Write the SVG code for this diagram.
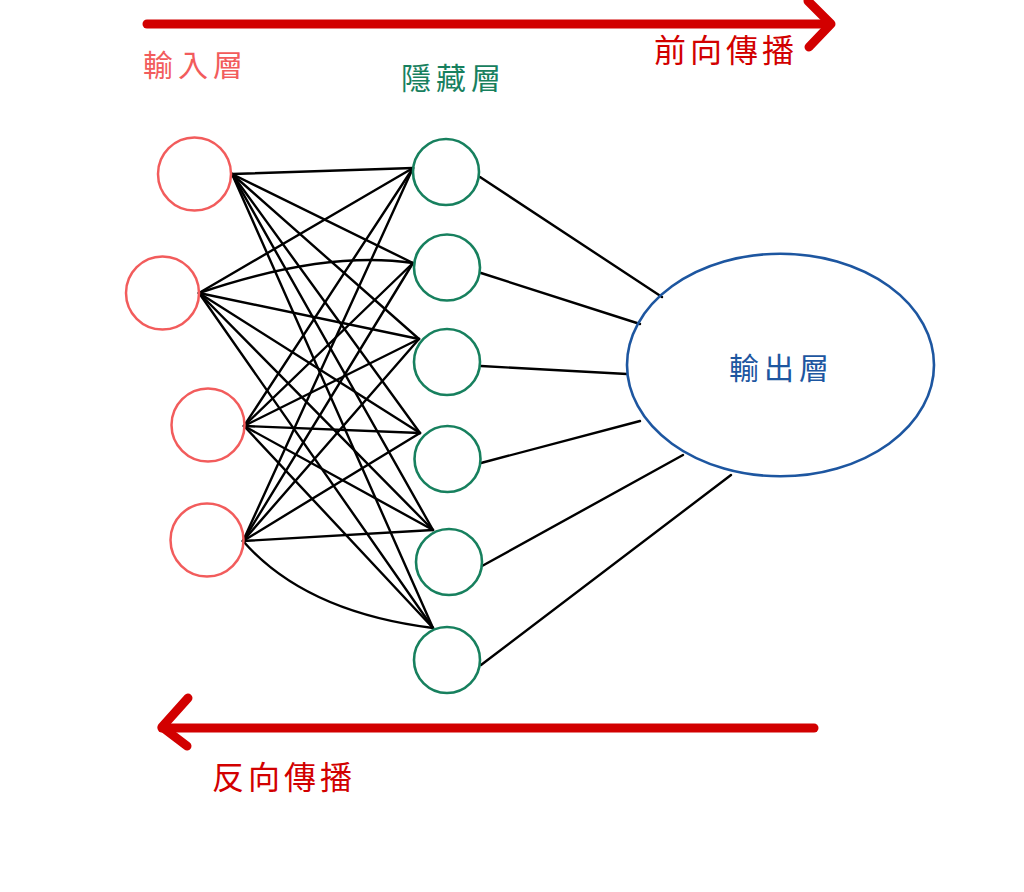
<svg xmlns="http://www.w3.org/2000/svg" width="1024" height="892" viewBox="0 0 1024 892">
<style>
.in{fill:none;stroke:#f25c5c;stroke-width:2.5}
.hid{fill:none;stroke:#17805e;stroke-width:2.6}
.edge{fill:none;stroke:#000;stroke-width:2.4;stroke-linecap:round}
.arr{fill:none;stroke:#d20000;stroke-width:9;stroke-linecap:round;stroke-linejoin:round}
.t{font-family:"Noto Sans CJK TC","Noto Sans CJK SC",sans-serif}
</style>
<rect width="1024" height="892" fill="#fff"/>
<g id="arrows">
<g id="forward">
<line class="arr" x1="147" y1="24" x2="830" y2="24"/>
<polyline class="arr" points="808,1 831,24 809,47"/>
<text class="t" x="654" y="62" font-size="32" fill="#d20000" letter-spacing="4">前向傳播</text>
</g>
<g id="backward">
<line class="arr" x1="162" y1="728" x2="814" y2="728"/>
<polyline class="arr" points="188,698 162,727 187,746"/>
<text class="t" x="212" y="789" font-size="32" fill="#d20000" letter-spacing="4">反向傳播</text>
</g>
</g>
<g id="labels">
<text class="t" x="143" y="76" font-size="30" fill="#f25c5c" letter-spacing="5">輸入層</text>
<text class="t" x="401" y="89" font-size="30" fill="#17805e" letter-spacing="5">隱藏層</text>
</g>
<g id="connectors">
<line class="edge" x1="232" y1="174" x2="413" y2="168"/>
<line class="edge" x1="232" y1="174" x2="413" y2="263"/>
<line class="edge" x1="232" y1="174" x2="419" y2="339"/>
<line class="edge" x1="232" y1="174" x2="420" y2="433"/>
<line class="edge" x1="232" y1="174" x2="433" y2="530"/>
<line class="edge" x1="232" y1="174" x2="433" y2="628"/>
<line class="edge" x1="199" y1="293" x2="413" y2="168"/>
<path class="edge" d="M199,293 Q325,250 413,263"/>
<line class="edge" x1="199" y1="293" x2="419" y2="339"/>
<line class="edge" x1="199" y1="293" x2="420" y2="433"/>
<line class="edge" x1="199" y1="293" x2="433" y2="530"/>
<line class="edge" x1="199" y1="293" x2="433" y2="628"/>
<line class="edge" x1="244" y1="426" x2="413" y2="168"/>
<line class="edge" x1="244" y1="426" x2="413" y2="263"/>
<line class="edge" x1="244" y1="426" x2="419" y2="339"/>
<line class="edge" x1="244" y1="426" x2="420" y2="433"/>
<line class="edge" x1="244" y1="426" x2="433" y2="530"/>
<line class="edge" x1="244" y1="426" x2="433" y2="628"/>
<line class="edge" x1="243" y1="541" x2="413" y2="168"/>
<line class="edge" x1="243" y1="541" x2="413" y2="263"/>
<line class="edge" x1="243" y1="541" x2="419" y2="339"/>
<line class="edge" x1="243" y1="541" x2="420" y2="433"/>
<line class="edge" x1="243" y1="541" x2="433" y2="530"/>
<path class="edge" d="M243,541 Q305,612 433,628"/>
<line class="edge" x1="480" y1="177" x2="662" y2="297"/>
<line class="edge" x1="481" y1="273" x2="640" y2="324"/>
<line class="edge" x1="481" y1="366" x2="627" y2="374"/>
<line class="edge" x1="481" y1="463" x2="640" y2="421"/>
<line class="edge" x1="482" y1="566" x2="683" y2="455"/>
<line class="edge" x1="481" y1="665" x2="731" y2="475"/>
</g>
<g id="input-1"><circle class="in" cx="194.5" cy="174" r="36.5"/></g>
<g id="input-2"><circle class="in" cx="162.5" cy="293" r="36.5"/></g>
<g id="input-3"><circle class="in" cx="208" cy="425" r="36.5"/></g>
<g id="input-4"><circle class="in" cx="207" cy="540" r="36.5"/></g>
<g id="hidden-1"><circle class="hid" cx="446" cy="172" r="33"/></g>
<g id="hidden-2"><circle class="hid" cx="447" cy="267.5" r="33"/></g>
<g id="hidden-3"><circle class="hid" cx="447" cy="362" r="33"/></g>
<g id="hidden-4"><circle class="hid" cx="447.5" cy="459" r="33"/></g>
<g id="hidden-5"><circle class="hid" cx="449" cy="562" r="33"/></g>
<g id="hidden-6"><circle class="hid" cx="447" cy="660" r="33"/></g>
<g id="output">
<ellipse fill="none" stroke="#1d56a0" stroke-width="2.6" cx="780.5" cy="365" rx="153.5" ry="111.3"/>
<text class="t" x="729" y="379" font-size="30" fill="#1d56a0" letter-spacing="5">輸出層</text>
</g>
</svg>
